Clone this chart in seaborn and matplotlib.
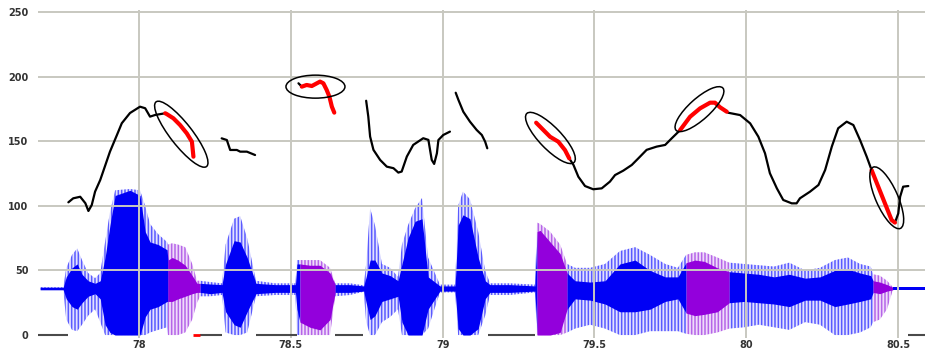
import matplotlib
matplotlib.use("Agg")
import matplotlib.pyplot as plt
import matplotlib.transforms as mtransforms
from matplotlib.patches import Ellipse
import pandas as pd
import seaborn as sns

# ---------- waveform envelope (time in s, amplitude on the Hz scale) ----------
wave_t = [77.674, 77.750, 77.760, 77.779, 77.796, 77.812, 77.832, 77.855, 77.872, 77.888,
          77.904, 77.921, 77.970, 78.003, 78.020, 78.036, 78.063, 78.092, 78.095, 78.109,
          78.128, 78.152, 78.175, 78.191, 78.201, 78.234, 78.273, 78.285, 78.313, 78.333,
          78.356, 78.385, 78.448, 78.515, 78.520, 78.530, 78.563, 78.596, 78.629, 78.646,
          78.695, 78.740, 78.748, 78.761, 78.777, 78.800, 78.827, 78.853, 78.866, 78.886,
          78.909, 78.932, 78.952, 78.991, 79.041, 79.051, 79.067, 79.090, 79.117, 79.140,
          79.156, 79.222, 79.304, 79.311, 79.321, 79.354, 79.387, 79.410, 79.436, 79.486,
          79.535, 79.584, 79.634, 79.683, 79.733, 79.775, 79.802, 79.831, 79.862, 79.905,
          79.944, 79.993, 80.042, 80.092, 80.142, 80.194, 80.243, 80.292, 80.335, 80.375,
          80.410, 80.418, 80.440, 80.464, 80.483, 80.589]
wave_top = [37, 37, 52, 62, 67, 58, 48, 44, 48, 72,
            95, 112, 113, 112, 100, 86, 78, 72, 70, 71,
            70, 68, 55, 42, 42, 41, 40, 70, 90, 92,
            75, 42, 40, 40, 58, 58, 58, 58, 52, 40,
            40, 38.5, 55, 98, 85, 55, 52, 45, 70, 85,
            98, 106, 60, 39, 39, 100, 111, 105, 80, 50,
            40, 40, 39, 87, 86, 80, 70, 55, 52, 52,
            55, 65, 68, 62, 55, 52, 62, 64, 64, 60,
            56, 55, 54, 53, 56, 50, 52, 58, 60, 55,
            53, 47, 46, 42, 37, 37]
wave_core_top = [37, 37, 45, 52, 55, 47, 42, 40, 42, 60,
                 85, 108, 112, 108, 80, 72, 70, 66, 58, 60,
                 58, 54, 46, 40, 40, 39.5, 39, 55, 73, 72,
                 60, 40, 39, 39, 55, 55, 54, 54, 48, 39,
                 39, 38, 45, 58, 58, 48, 46, 42, 55, 75,
                 88, 90, 45, 38, 38, 85, 93, 90, 60, 42,
                 39, 39, 38, 80, 81, 72, 63, 48, 42, 41,
                 42, 55, 58, 50, 45, 45, 56, 58, 57, 52,
                 49, 48, 47, 45, 47, 44, 45, 50, 51, 48,
                 46, 42, 41, 39, 37, 37]
wave_core_bot = [35, 35, 28, 22, 20, 25, 30, 32, 28, 8,
                 2, 0, 0, 0, 14, 20, 22, 26, 26, 26,
                 28, 30, 32, 33, 33, 32, 33, 18, 8, 6,
                 18, 32, 33, 33, 20, 10, 6, 4, 12, 33,
                 33, 34, 25, 12, 15, 26, 28, 30, 10, 0,
                 0, 0, 20, 34, 34, 5, 0, 0, 5, 28,
                 33, 33, 34, 0, 0, 0, 2, 20, 28, 27,
                 24, 18, 18, 20, 26, 28, 17, 15, 16, 18,
                 25, 26, 25, 24, 22, 27, 27, 22, 24, 26,
                 28, 33, 32, 34, 35, 35]
wave_bot = [35, 35, 12, 4, 3, 8, 15, 20, 10, 0,
            0, 0, 0, 0, 0, 2, 4, 6, 0, 0,
            0, 2, 12, 25, 30, 30, 31, 2, 0, 0,
            2, 30, 31, 31, 0, 0, 0, 0, 0, 30,
            31, 33.5, 10, 0, 0, 10, 14, 20, 0, 0,
            0, 0, 5, 33, 33, 0, 0, 0, 0, 15,
            31, 31, 33, 0, 0, 0, 0, 2, 5, 8,
            5, 0, 0, 3, 3, 3, 1, 0, 0, 2,
            5, 6, 8, 6, 4, 10, 8, 0, 0, 2,
            6, 10, 12, 20, 35, 35]
wave_tag = list("b" * 18 + "p" * 6 + "b" * 11 + "p" * 4 + "b" * 24 + "p" * 4
                + "b" * 9 + "p" * 4 + "b" * 11 + "p" * 3 + "b" * 2)

# ---------- F0 contour (s, Hz) ----------
seg1_t = [77.767, 77.783, 77.806, 77.823, 77.833, 77.844, 77.855, 77.872, 77.904, 77.927,
          77.943, 77.970, 78.003, 78.020, 78.036, 78.053, 78.086, 78.091, 78.113, 78.135,
          78.157, 78.174, 78.179]
seg1_hz = [102.7, 105.8, 107.0, 102.0, 96.0, 100.6, 111.0, 120.0, 141.9, 154.8,
           163.9, 171.8, 176.7, 175.5, 169.0, 170.3, 171.6, 171.0, 167.7, 162.5,
           156.1, 149.6, 138.0]
seg2_t = [78.272, 78.289, 78.300, 78.322, 78.333, 78.355, 78.382]
seg2_hz = [152.2, 150.9, 143.2, 143.2, 141.9, 141.9, 139.3]
seg3_t = [78.525, 78.536, 78.552, 78.569, 78.596, 78.607, 78.618, 78.627, 78.635, 78.643]
seg3_hz = [194.8, 192.2, 193.5, 192.7, 196.1, 194.8, 189.6, 184.4, 176.7, 172.1]
seg4_t = [78.748, 78.755, 78.761, 78.772, 78.794, 78.816, 78.838, 78.854, 78.865, 78.882,
          78.903, 78.936, 78.953, 78.964, 78.972, 78.981, 78.986, 79.002, 79.024]
seg4_hz = [181.3, 169.1, 153.6, 143.3, 135.5, 130.3, 129.1, 125.7, 126.5, 138.1,
           147.1, 152.3, 151.0, 135.5, 132.4, 140.6, 150.9, 154.8, 157.4]
seg5_t = [79.043, 79.052, 79.068, 79.090, 79.112, 79.129, 79.140, 79.147]
seg5_hz = [187.5, 181.9, 172.8, 165.1, 158.7, 154.8, 149.6, 144.5]
seg6_t = [79.308, 79.332, 79.354, 79.381, 79.403, 79.417, 79.431, 79.447, 79.469, 79.496,
          79.524, 79.551, 79.568, 79.595, 79.623, 79.645, 79.672, 79.705, 79.733, 79.755,
          79.782, 79.815, 79.848, 79.881, 79.897, 79.914, 79.936, 79.941, 79.980, 80.013,
          80.040, 80.062, 80.078, 80.101, 80.122, 80.150, 80.166, 80.177, 80.210, 80.238,
          80.260, 80.282, 80.303, 80.331, 80.353, 80.375, 80.397, 80.413, 80.435, 80.457,
          80.479, 80.490, 80.501, 80.507, 80.517, 80.534]
seg6_hz = [164.3, 158.6, 153.4, 149.6, 143.1, 136.7, 131.6, 122.5, 115.3, 112.8,
           113.5, 118.7, 123.8, 127.2, 131.6, 136.8, 143.3, 145.8, 147.1, 152.3,
           158.5, 168.9, 175.4, 179.8, 179.8, 176.2, 172.8, 172.0, 170.2, 163.8,
           153.5, 140.6, 125.2, 113.5, 104.5, 101.9, 101.9, 105.8, 110.9, 116.1,
           127.7, 145.8, 160.0, 165.1, 162.5, 150.9, 138.0, 127.7, 114.8, 101.9,
           89.0, 87.0, 94.1, 107.0, 114.8, 115.3]

# highlighted (red) stretches
red1_t = [78.086, 78.091, 78.113, 78.135, 78.157, 78.174, 78.179]
red1_hz = [171.6, 171.0, 167.7, 162.5, 156.1, 149.6, 138.0]
red2_t = [78.536, 78.552, 78.569, 78.596, 78.607, 78.618, 78.627, 78.635, 78.643]
red2_hz = [192.2, 193.5, 192.7, 196.1, 194.8, 189.6, 184.4, 176.7, 172.1]
red3_t = [79.308, 79.332, 79.354, 79.381, 79.403, 79.417]
red3_hz = [164.3, 158.6, 153.4, 149.6, 143.1, 136.7]
red4_t = [79.782, 79.815, 79.848, 79.881, 79.897, 79.914, 79.936]
red4_hz = [158.5, 168.9, 175.4, 179.8, 179.8, 176.2, 172.8]
red5_t = [80.413, 80.435, 80.457, 80.479, 80.490]
red5_hz = [127.7, 114.8, 101.9, 89.0, 87.0]

# unvoiced stretches (F0 = 0)
zero_start = [77.667, 78.201, 78.385, 78.646, 79.150, 80.533]
zero_end = [77.766, 78.273, 78.520, 78.738, 79.304, 80.589]
zero_red = (78.178, 78.201)

# circled stretches: centre time, centre Hz
ring_t = [78.139, 78.581, 79.355, 79.846, 80.463]
ring_hz = [155.4, 192.2, 152.5, 174.8, 106.2]

x_ticks = [78, 78.5, 79, 79.5, 80, 80.5]
x_labels = ["78", "78.5", "79", "79.5", "80", "80.5"]
y_ticks = [0, 50, 100, 150, 200, 250]

sns.set_style("white")
plt.rcParams["font.family"] = ["DejaVu Sans"]
plt.rcParams["hatch.linewidth"] = 1.1

fig = plt.figure(figsize=(9.25, 3.49), dpi=100)
ax = fig.add_axes([0.0411, 0.0315, 0.9589, 0.9398])

# ---------- waveform ----------
wave = pd.DataFrame(dict(time=wave_t, top=wave_top, ctop=wave_core_top,
                         cbot=wave_core_bot, bot=wave_bot, tag=wave_tag))
colours = {"b": ("#e2e2ff", "#5a5aff", "#0000f5"),
           "p": ("#f0dcfa", "#b565e8", "#9300dc")}
runs = (wave["tag"] != wave["tag"].shift()).cumsum()
for _, idx in wave.groupby(runs).indices.items():
    i0, i1 = idx[0], min(idx[-1] + 1, len(wave) - 1)
    part = wave.iloc[i0:i1 + 1]
    light, stripe, dark = colours[part["tag"].iloc[0]]
    ax.fill_between(part["time"], part["bot"], part["top"], facecolor=light,
                    edgecolor=stripe, hatch="|||||", linewidth=0, zorder=1)
    ax.fill_between(part["time"], part["cbot"], part["ctop"], color=dark,
                    linewidth=0, zorder=1.5)

# ---------- grid ----------
for x in x_ticks:
    ax.axvline(x, color="#c8c8c0", lw=1.4, zorder=2.5)
for y in y_ticks[1:]:
    ax.axhline(y, color="#c8c8c0", lw=1.4, zorder=2.5)

# ---------- F0 contour ----------
segs = [(seg1_t, seg1_hz), (seg2_t, seg2_hz), (seg3_t, seg3_hz),
        (seg4_t, seg4_hz), (seg5_t, seg5_hz), (seg6_t, seg6_hz)]
f0 = pd.concat([pd.DataFrame(dict(time=t, hz=h, seg=i)) for i, (t, h) in enumerate(segs)])
sns.lineplot(data=f0, x="time", y="hz", units="seg", estimator=None, sort=False,
             color="black", lw=1.6, legend=False, ax=ax, zorder=3)

reds = [(red1_t, red1_hz), (red2_t, red2_hz), (red3_t, red3_hz),
        (red4_t, red4_hz), (red5_t, red5_hz)]
hi = pd.concat([pd.DataFrame(dict(time=t, hz=h, seg=i)) for i, (t, h) in enumerate(reds)])
sns.lineplot(data=hi, x="time", y="hz", units="seg", estimator=None, sort=False,
             color="#ff0000", lw=3.0, legend=False, ax=ax, zorder=3.5,
             solid_capstyle="round")

ax.hlines([0] * len(zero_start), zero_start, zero_end, color="#4a4a4a", lw=1.5, zorder=3)
ax.hlines(0, *zero_red, color="#ff0000", lw=2, zorder=3)

# ---------- ellipses (sizes in pixels) ----------
ring_size = [(82, 22, -52), (59, 23, 0), (68, 22, -46), (63, 21, 42), (67, 22, -66)]
for t, h, (w, hh, ang) in zip(ring_t, ring_hz, ring_size):
    trans = fig.dpi_scale_trans + mtransforms.ScaledTranslation(t, h, ax.transData)
    ax.add_patch(Ellipse((0, 0), w / 100, hh / 100, angle=ang, fill=False,
                         edgecolor="black", lw=1.1, transform=trans, zorder=4))

ax.set_xlim(77.667, 80.589)
ax.set_ylim(-2.3, 251.5)
ax.set_xticks(x_ticks)
ax.set_xticklabels(x_labels)
ax.set_yticks(y_ticks)
ax.tick_params(length=0, labelsize=7, labelcolor="#333333")
ax.tick_params(axis="y", pad=7)
ax.tick_params(axis="x", pad=1.5)
for lab in ax.get_xticklabels() + ax.get_yticklabels():
    lab.set_fontweight("bold")
ax.set_xlabel("")
ax.set_ylabel("")
for s in ax.spines.values():
    s.set_visible(False)

fig.savefig("out.png", dpi=100)
